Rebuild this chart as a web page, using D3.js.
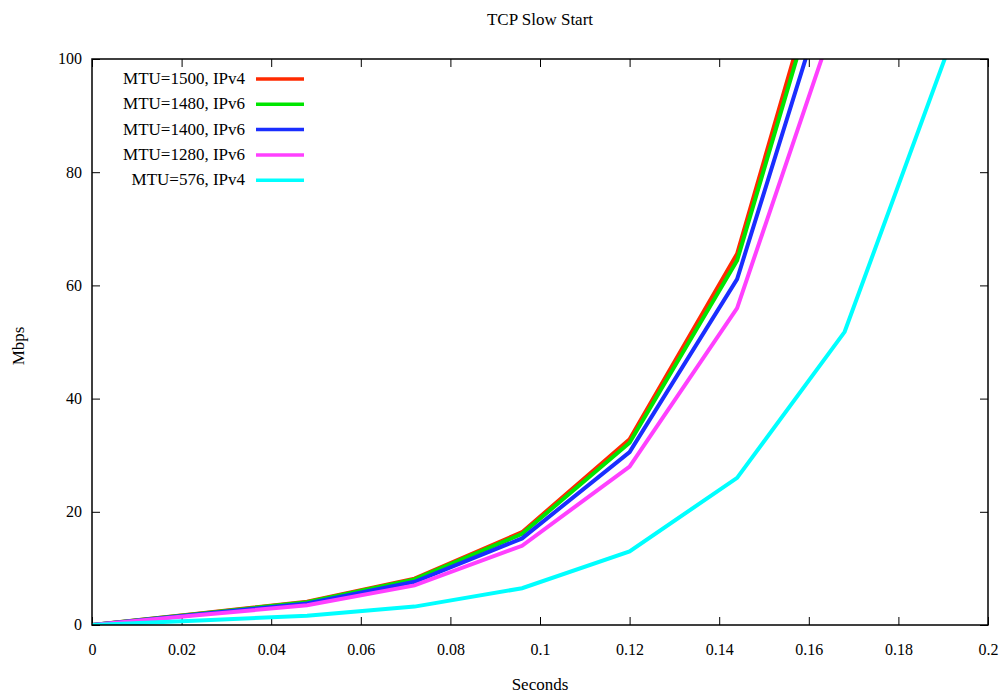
<!DOCTYPE html>
<html><head><meta charset="utf-8">
<script src="https://cdn.jsdelivr.net/npm/d3@7"></script>
<style>body{margin:0;background:#fff}svg text{font-family:"Liberation Serif","Times New Roman",serif;fill:#000}</style>
</head><body>
<svg id="c" width="1001" height="695"></svg>
<script>
const times = [0, 0.024, 0.048, 0.072, 0.096, 0.12, 0.144, 0.168, 0.192];
const seriesNames = ["MTU=1500, IPv4", "MTU=1480, IPv6", "MTU=1400, IPv6", "MTU=1280, IPv6", "MTU=576, IPv4"];
const mtu1500 = [0, 2.05, 4.1, 8.2, 16.4, 32.8, 65.6, 131.2];
const mtu1480 = [0, 2.01, 4.02, 8.05, 16.1, 32.2, 64.4, 128.8];
const mtu1400 = [0, 1.91, 3.82, 7.64, 15.3, 30.55, 61.1, 122.2];
const mtu1280 = [0, 1.75, 3.5, 7.0, 14.0, 28.0, 56.0, 112.0];
const mtu576 = [0, 0.81, 1.62, 3.25, 6.5, 13.0, 26.0, 51.8, 103.6];
const colors = ["#ff2a00", "#00e600", "#1a2eff", "#ff40ff", "#00ffff"];
const xTicks = [0, 0.02, 0.04, 0.06, 0.08, 0.1, 0.12, 0.14, 0.16, 0.18, 0.2];
const yTicks = [0, 20, 40, 60, 80, 100];

const allSeries = [mtu1500, mtu1480, mtu1400, mtu1280, mtu576];
const L = 92, R = 988, T = 59, B = 625;
const svg = d3.select("#c");
const x = d3.scaleLinear().domain([0, 0.2]).range([L, R]);
const y = d3.scaleLinear().domain([0, 100]).range([B, T]);

svg.append("defs").append("clipPath").attr("id", "clip")
  .append("rect").attr("x", L).attr("y", T).attr("width", R - L).attr("height", B - T);

const fmt = d => d === 0 ? "0" : String(+d.toFixed(2));
const gx = svg.append("g").attr("transform", `translate(0,${B})`)
  .call(d3.axisBottom(x).tickValues(xTicks).tickSizeInner(-8).tickSizeOuter(0).tickPadding(19).tickFormat(fmt));
const gxt = svg.append("g").attr("transform", `translate(0,${T})`)
  .call(d3.axisTop(x).tickValues(xTicks).tickSizeInner(-8).tickSizeOuter(0).tickFormat(""));
const gy = svg.append("g").attr("transform", `translate(${L},0)`)
  .call(d3.axisLeft(y).tickValues(yTicks).tickSizeInner(-8).tickSizeOuter(0).tickPadding(10).tickFormat(d3.format("d")));
const gyr = svg.append("g").attr("transform", `translate(${R},0)`)
  .call(d3.axisRight(y).tickValues(yTicks).tickSizeInner(-8).tickSizeOuter(0).tickFormat(""));
[gx, gxt, gy, gyr].forEach(g => {
  g.attr("font-family", null).attr("font-size", null);
  g.select(".domain").remove();
  g.selectAll(".tick line").attr("stroke", "#000").attr("stroke-width", 1);
  g.selectAll("text").style("font-size", "16px");
});
gx.selectAll("text").attr("dy", "0.71em");
gy.selectAll("text").attr("dy", "0.3em");

const line = d3.line().x((d, i) => x(times[i])).y(d => y(d));
const lg = svg.append("g").attr("clip-path", "url(#clip)");
allSeries.forEach((s, k) => {
  lg.append("path").datum(s).attr("d", line).attr("fill", "none")
    .attr("stroke", colors[k]).attr("stroke-width", 4).attr("stroke-linejoin", "miter");
});

svg.append("rect").attr("x", L).attr("y", T).attr("width", R - L).attr("height", B - T)
  .attr("fill", "none").attr("stroke", "#000").attr("stroke-width", 1.5);

seriesNames.forEach((n, k) => {
  const yy = 79 + k * 25.3;
  svg.append("text").attr("x", 245).attr("y", yy + 5).attr("text-anchor", "end").style("font-size", "17px").text(n);
  svg.append("line").attr("x1", 256).attr("x2", 304).attr("y1", yy).attr("y2", yy)
    .attr("stroke", colors[k]).attr("stroke-width", 3.5);
});

svg.append("text").attr("x", 540).attr("y", 25).attr("text-anchor", "middle").style("font-size", "17px").text("TCP Slow Start");
svg.append("text").attr("x", 540).attr("y", 690).attr("text-anchor", "middle").style("font-size", "17px").text("Seconds");
svg.append("text").attr("transform", "translate(24,346) rotate(-90)").attr("text-anchor", "middle").style("font-size", "17px").text("Mbps");
</script>
</body></html>
